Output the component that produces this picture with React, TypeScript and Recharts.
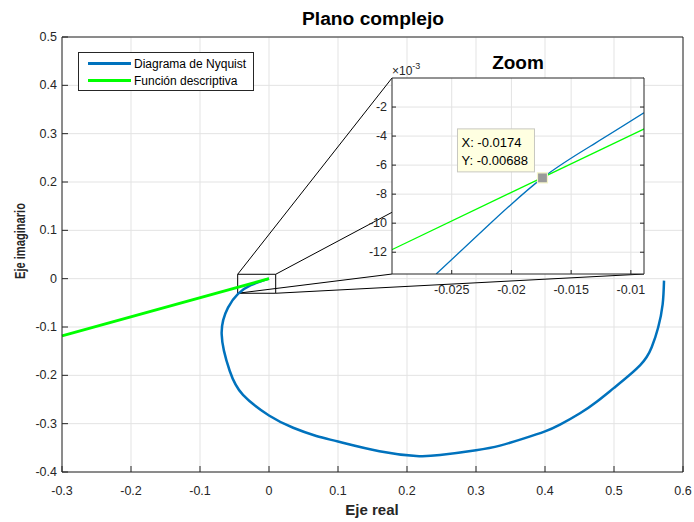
import {
  ComposedChart,
  Line,
  Scatter,
  XAxis,
  YAxis,
  CartesianGrid,
  ReferenceArea,
  ReferenceLine,
} from "recharts";

// main axes ticks
const realTicks = [-0.3, -0.2, -0.1, 0, 0.1, 0.2, 0.3, 0.4, 0.5, 0.6];
const imagTicks = [-0.4, -0.3, -0.2, -0.1, 0, 0.1, 0.2, 0.3, 0.4, 0.5];

const nyquistRe = [
  0.5725, 0.5705, 0.564, 0.5546, 0.5377, 0.5, 0.4749, 0.4507, 0.4217, 0.4,
  0.3686, 0.3348, 0.3, 0.2478, 0.2135, 0.16, 0.1, 0.0686, 0.035, 0, -0.0377,
  -0.057, -0.0686, -0.0594, -0.0449, -0.0263, 0,
];
const nyquistIm = [
  -0.004, -0.053, -0.101, -0.142, -0.1795, -0.226, -0.2546, -0.2785, -0.302,
  -0.316, -0.331, -0.3454, -0.355, -0.365, -0.367, -0.357, -0.337, -0.3255,
  -0.3085, -0.283, -0.2405, -0.1905, -0.1147, -0.06, -0.0314, -0.0135, 0,
];

// Nyquist curve
const zoomNyqRe = [-0.0263, -0.022, -0.0174, -0.013, -0.0089];
const zoomNyqIm = [-0.0135, -0.0102, -0.00688, -0.0045, -0.0024];

// describing function (-1/N)
const descRe = [-0.3, 0];
const descIm = [-0.1182, 0];

// zoom inset
const zoomReTicks = [-0.025, -0.02, -0.015, -0.01];
const zoomImTicks = [-0.012, -0.01, -0.008, -0.006, -0.004, -0.002];
const tipRe = [-0.0174];
const tipIm = [-0.00688];

// zoom box on main axes and the inset corners (in main-axes units)
const boxRe = [-0.0454, 0.0097];
const boxIm = [-0.0302, 0.0091];
const insetRe = [0.1783, 0.5435];
const insetIm = [0.0096, 0.4152];

const nyqData = nyquistRe.map((x, i) => ({ x, y: nyquistIm[i] }));
const zoomNyqData = zoomNyqRe.map((x, i) => ({ x, y: zoomNyqIm[i] }));
const descData = descRe.map((x, i) => ({ x, y: descIm[i] }));
const tipData = tipRe.map((x, i) => ({ x, y: tipIm[i] }));

const AX = "#262626";
const GRID = "#e3e3e3";
const FONT = '"Liberation Sans", Arial, Helvetica, sans-serif';
const BLUE = "#0072bd";
const GREEN = "#00ff00";

type Box = { left: number; right: number; top: number; bottom: number };

const MAIN: Box = { left: 62, right: 683, top: 37, bottom: 472 };
const ZOOM: Box = { left: 40, right: 292, top: 28, bottom: 224 };

const fmtMain = (v: number) => String(v);
const fmtMilli = (v: number) => String(Math.round(v * 1000));

const bottomTick =
  (b: Box, len: number, fmt: (v: number) => string, dy: number) =>
  (p: any) => (
    <g>
      <line x1={p.x} x2={p.x} y1={b.bottom} y2={b.bottom - len} stroke={AX} />
      <text
        x={p.x}
        y={b.bottom + dy}
        textAnchor="middle"
        fontSize={12.5}
        fontFamily={FONT}
        fill={AX}
      >
        {fmt(p.payload.value)}
      </text>
    </g>
  );

const topTick = (b: Box, len: number) => (p: any) => (
  <line x1={p.x} x2={p.x} y1={b.top} y2={b.top + len} stroke={AX} />
);

const leftTick =
  (b: Box, len: number, fmt: (v: number) => string, dx: number) =>
  (p: any) => (
    <g>
      <line x1={b.left} x2={b.left + len} y1={p.y} y2={p.y} stroke={AX} />
      <text
        x={b.left - dx}
        y={p.y + 4}
        textAnchor="end"
        fontSize={12.5}
        fontFamily={FONT}
        fill={AX}
      >
        {fmt(p.payload.value)}
      </text>
    </g>
  );

const rightTick = (b: Box, len: number) => (p: any) => (
  <line x1={b.right} x2={b.right - len} y1={p.y} y2={p.y} stroke={AX} />
);

const DataTip = (p: any) => {
  const { cx, cy } = p;
  return (
    <g>
      <rect
        x={cx - 85}
        y={cy - 49}
        width={77}
        height={43}
        fill="#ffffe1"
        stroke="#c8c8c0"
      />
      <text x={cx - 81} y={cy - 31} fontSize={13} fontFamily={FONT} fill="#000">
        {`X: ${tipRe[0]}`}
      </text>
      <text x={cx - 81} y={cy - 13} fontSize={13} fontFamily={FONT} fill="#000">
        {`Y: ${tipIm[0]}`}
      </text>
      <rect
        x={cx - 5}
        y={cy - 5}
        width={10}
        height={10}
        fill="#9a9a9a"
        stroke="#f4f4c8"
        strokeWidth={1.2}
      />
    </g>
  );
};

const LegendBox = () => (
  <div
    style={{
      position: "absolute",
      left: 78,
      top: 52,
      width: 174,
      height: 37,
      border: `1px solid ${AX}`,
      background: "#fff",
      fontFamily: FONT,
      fontSize: 12,
      color: "#000",
    }}
  >
    {[
      { name: "Diagrama de Nyquist", color: BLUE },
      { name: "Función descriptiva", color: GREEN },
    ].map((item, i) => (
      <div
        key={i}
        style={{
          position: "absolute",
          left: 9,
          top: 3 + i * 17,
          height: 15,
          display: "flex",
          alignItems: "center",
        }}
      >
        <div style={{ width: 43, height: 3, background: item.color }} />
        <span style={{ marginLeft: 3, whiteSpace: "nowrap" }}>{item.name}</span>
      </div>
    ))}
  </div>
);

const App = () => {
  return (
    <div
      style={{
        position: "absolute",
        left: 0,
        top: 0,
        width: 694,
        height: 522,
        background: "#fff",
      }}
    >
      <ComposedChart
        width={694}
        height={522}
        margin={{ top: 27, right: 6, bottom: 20, left: 12 }}
      >
        <CartesianGrid
          stroke={GRID}
          verticalValues={realTicks}
          horizontalValues={imagTicks}
        />
        <XAxis
          type="number"
          dataKey="x"
          domain={[-0.3, 0.6]}
          ticks={realTicks}
          interval={0}
          height={30}
          axisLine={{ stroke: AX }}
          tickLine={false}
          tick={bottomTick(MAIN, 6, fmtMain, 23)}
        />
        <XAxis
          xAxisId="top"
          orientation="top"
          type="number"
          domain={[-0.3, 0.6]}
          ticks={realTicks}
          interval={0}
          height={10}
          axisLine={{ stroke: AX }}
          tickLine={false}
          tick={topTick(MAIN, 6)}
        />
        <YAxis
          type="number"
          domain={[-0.4, 0.5]}
          ticks={imagTicks}
          interval={0}
          width={50}
          axisLine={{ stroke: AX }}
          tickLine={false}
          tick={leftTick(MAIN, 6, fmtMain, 5)}
        />
        <YAxis
          yAxisId="right"
          orientation="right"
          type="number"
          domain={[-0.4, 0.5]}
          ticks={imagTicks}
          interval={0}
          width={5}
          axisLine={{ stroke: AX }}
          tickLine={false}
          tick={rightTick(MAIN, 6)}
        />
        <ReferenceArea
          x1={boxRe[0]}
          x2={boxRe[1]}
          y1={boxIm[0]}
          y2={boxIm[1]}
          fill="none"
          stroke="#000"
          strokeWidth={1}
        />
        {[0, 1].map((i) =>
          [0, 1].map((j) => (
            <ReferenceLine
              key={`c${i}${j}`}
              segment={[
                { x: boxRe[i], y: boxIm[j] },
                { x: insetRe[i], y: insetIm[j] },
              ]}
              stroke="#000"
              strokeWidth={1}
            />
          ))
        )}
        <Line
          data={nyqData}
          dataKey="y"
          type="natural"
          stroke={BLUE}
          strokeWidth={2.5}
          dot={false}
          isAnimationActive={false}
        />
        <Line
          data={descData}
          dataKey="y"
          type="linear"
          stroke={GREEN}
          strokeWidth={2.8}
          dot={false}
          isAnimationActive={false}
        />
        <text
          x={373}
          y={25}
          textAnchor="middle"
          fontSize={18}
          fontWeight="bold"
          fontFamily={FONT}
          fill="#000"
          textLength={142}
          lengthAdjust="spacingAndGlyphs"
        >
          Plano complejo
        </text>
        <text
          x={372}
          y={515}
          textAnchor="middle"
          fontSize={15}
          fontWeight="bold"
          fontFamily={FONT}
          fill={AX}
        >
          Eje real
        </text>
        <text
          x={25}
          y={241}
          textAnchor="middle"
          fontSize={14}
          fontWeight="bold"
          fontFamily={FONT}
          fill={AX}
          transform="rotate(-90 25 241)"
          textLength={76}
          lengthAdjust="spacingAndGlyphs"
        >
          Eje imaginario
        </text>
      </ComposedChart>

      <LegendBox />

      <div style={{ position: "absolute", left: 352, top: 50 }}>
        <ComposedChart
          width={310}
          height={250}
          margin={{ top: 18, right: 8, bottom: 6, left: 5 }}
        >
          <CartesianGrid
            stroke={GRID}
            fill="#fff"
            fillOpacity={1}
            verticalValues={zoomReTicks}
            horizontalValues={zoomImTicks}
          />
          <XAxis
            type="number"
            dataKey="x"
            domain={[-0.03, -0.0089]}
            allowDataOverflow
            ticks={zoomReTicks}
            interval={0}
            height={20}
            axisLine={{ stroke: AX }}
            tickLine={false}
            tick={bottomTick(ZOOM, 4, fmtMain, 20)}
          />
          <XAxis
            xAxisId="top"
            orientation="top"
            type="number"
            domain={[-0.03, -0.0089]}
            allowDataOverflow
            ticks={zoomReTicks}
            interval={0}
            height={10}
            axisLine={{ stroke: AX }}
            tickLine={false}
            tick={topTick(ZOOM, 4)}
          />
          <YAxis
            type="number"
            domain={[-0.0135, 0]}
            allowDataOverflow
            ticks={zoomImTicks}
            interval={0}
            width={35}
            axisLine={{ stroke: AX }}
            tickLine={false}
            tick={leftTick(ZOOM, 4, fmtMilli, 5)}
          />
          <YAxis
            yAxisId="right"
            orientation="right"
            type="number"
            domain={[-0.0135, 0]}
            allowDataOverflow
            ticks={zoomImTicks}
            interval={0}
            width={10}
            axisLine={{ stroke: AX }}
            tickLine={false}
            tick={rightTick(ZOOM, 4)}
          />
          <Line
            data={zoomNyqData}
            dataKey="y"
            type="natural"
            stroke={BLUE}
            strokeWidth={1.3}
            dot={false}
            isAnimationActive={false}
          />
          <Line
            data={descData}
            dataKey="y"
            type="linear"
            stroke={GREEN}
            strokeWidth={1.3}
            dot={false}
            isAnimationActive={false}
          />
          <Scatter
            data={tipData}
            dataKey="y"
            shape={DataTip}
            isAnimationActive={false}
          />
          <text
            x={166}
            y={19}
            textAnchor="middle"
            fontSize={19}
            fontWeight="bold"
            fontFamily={FONT}
            fill="#000"
          >
            Zoom
          </text>
          <text x={40} y={25} fontSize={12} fontFamily={FONT} fill={AX}>
            ×10
            <tspan fontSize={9} dy={-6}>
              -3
            </tspan>
          </text>
        </ComposedChart>
      </div>
    </div>
  );
};

export default App;
